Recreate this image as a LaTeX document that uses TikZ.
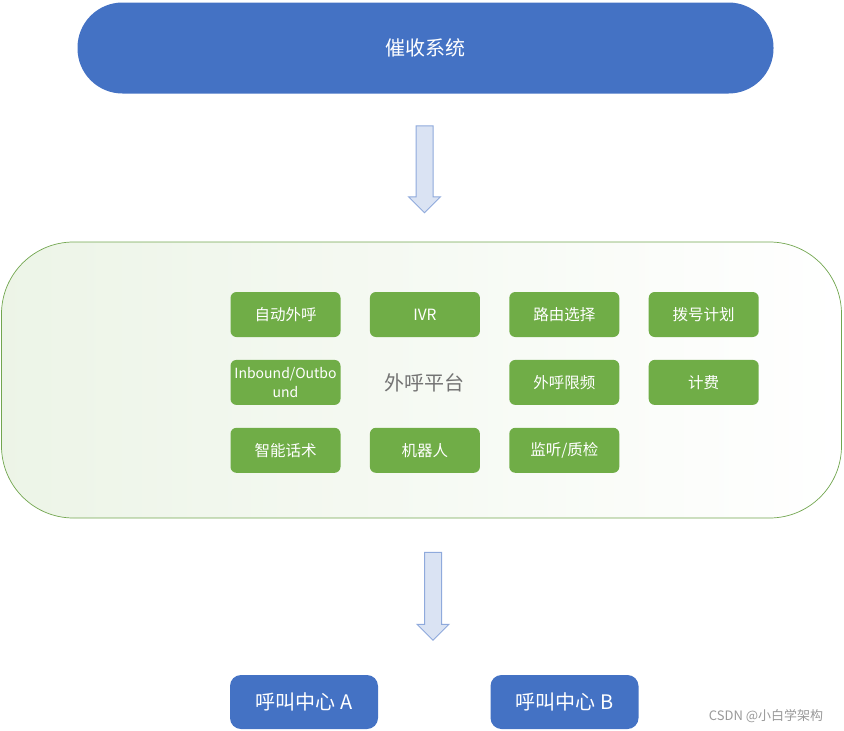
\documentclass[tikz,border=0pt]{standalone}
\usepackage{fontspec}
\setmainfont{Noto Sans CJK SC}
\usetikzlibrary{shapes.arrows, positioning}
\definecolor{sysblue}{RGB}{68,114,196}
\definecolor{funcgreen}{RGB}{112,173,71}
\definecolor{arrowfill}{RGB}{218,227,243}
\definecolor{arrowline}{RGB}{143,170,220}

\begin{document}
\begin{tikzpicture}[
    x=1pt, y=-1pt,
    node distance=22.5pt and 29pt,
    sysbox/.style={rectangle, fill=sysblue, text=white, align=center,
                   inner sep=0pt},
    funcbox/.style={rectangle, rounded corners=6pt, fill=funcgreen,
                    text=white, align=center, inner sep=2pt,
                    minimum width=110pt, minimum height=45pt,
                    font=\fontsize{15.5}{19}\selectfont},
    flowarrow/.style={single arrow, rotate=-90, draw=arrowline,
                      fill=arrowfill, line width=1pt, inner xsep=0pt,
                      inner ysep=8pt, single arrow head extend=7.5pt,
                      minimum width=31pt},
    platbox/.style={rectangle, rounded corners=72pt, draw=funcgreen!85!gray,
                    line width=0.7pt, left color=funcgreen!13,
                    right color=white, minimum width=840pt,
                    minimum height=276pt},
]
\useasboundingbox (0,0) rectangle (844,731);

\node[sysbox, rounded corners=45pt, minimum width=696pt, minimum height=91pt,
      font=\fontsize{20}{24}\selectfont] (collect) at (425.5,48) {催收系统};

\node[flowarrow, minimum height=87pt] (arrowtop) at (424.5,165) {};

\node[platbox] (platform) at (421.5,380) {};

% function grid of the platform
\node[funcbox] (autocall) at (285.5,314.5) {自动外呼};
\node[funcbox, right=of autocall] (ivr) {IVR};
\node[funcbox, right=of ivr] (route) {路由选择};
\node[funcbox, right=of route] (dialplan) {拨号计划};
\node[funcbox, below=of autocall, font=\fontsize{14}{19}\selectfont] (inout)
     {Inbound/Outbo\\und};
\node[funcbox, below=of route] (limit) {外呼限频};
\node[funcbox, below=of dialplan] (billing) {计费};
\node[funcbox, below=of inout] (script) {智能话术};
\node[funcbox] (robot) at (ivr |- script) {机器人};
\node[funcbox, below=of limit] (monitor) {监听/质检};

\node[text=black!55, font=\fontsize{20}{24}\selectfont] (platname)
     at (ivr |- inout) {外呼平台};

\node[flowarrow, minimum height=88pt] (arrowbottom) at (433,592) {};

\node[sysbox, rounded corners=11pt, minimum width=148pt, minimum height=54pt,
      font=\fontsize{20}{24}\selectfont] (centerA) at (304,702) {呼叫中心 A};
\node[sysbox, rounded corners=11pt, minimum width=148pt, minimum height=54pt,
      font=\fontsize{20}{24}\selectfont] (centerB) at (564.5,702) {呼叫中心 B};

\node[text=black!40, font=\fontsize{13}{16}\selectfont] (mark)
     at (766,716) {CSDN @小白学架构};

\end{tikzpicture}
\end{document}
